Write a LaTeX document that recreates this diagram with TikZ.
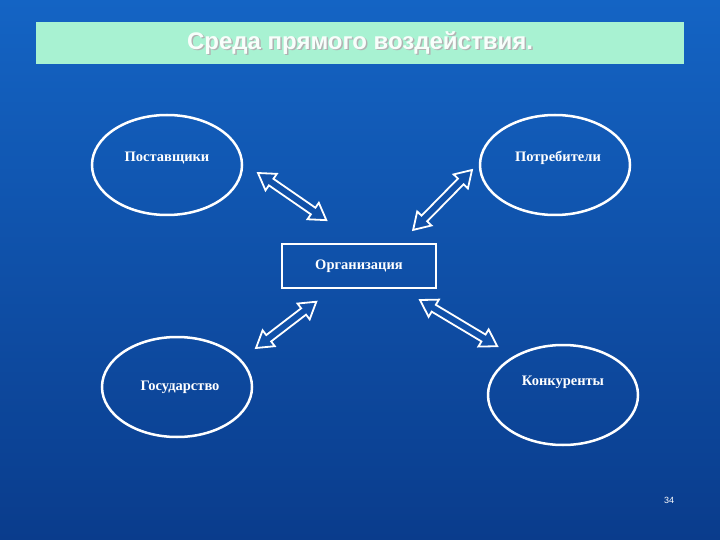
\documentclass[tikz,border=0pt]{standalone}
\usepackage{fontspec}
\setmainfont{Liberation Serif}
\newfontfamily\arialf{Liberation Sans}
\usetikzlibrary{arrows.meta,shapes.geometric}
\definecolor{bgtop}{HTML}{1464C4}
\definecolor{bgbot}{HTML}{0A3C8C}
\definecolor{mint}{HTML}{A8F2D2}
\definecolor{arrfill}{HTML}{1050A8}
\newcommand{\blockarr}[3]{%
  \begin{scope}[shift={(#1)},rotate=#2]
  \draw[draw=white,fill=arrfill,line width=1.8pt,line join=miter]
    (0,0)--(16,10)--(16,4)--(#3-16,4)--(#3-16,10)--(#3,0)--(#3-16,-10)--(#3-16,-4)--(16,-4)--(16,-10)--cycle;
  \end{scope}}
\begin{document}
\begin{tikzpicture}[x=1pt,y=-1pt,
  oval/.style={draw=white,line width=2.5pt,ellipse,minimum width=150pt,minimum height=100pt},
  lbl/.style={text=white,font=\bfseries\fontsize{14.5}{16}\selectfont}]
\shade[top color=bgtop,bottom color=bgbot] (0,0) rectangle (720,540);
\useasboundingbox (0,0) rectangle (720,540);
\node[fill=mint,minimum width=648pt,minimum height=42pt,inner sep=0] (title) at (360,43) {};
\node[text=gray!60,font=\arialf\bfseries\fontsize{24}{26}\selectfont] at (361.5,44.5) {Среда прямого воздействия.};
\node[text=white!92!mint,font=\arialf\bfseries\fontsize{24}{26}\selectfont] (tt) at (360,43) {Среда прямого воздействия.};
\node[oval] (sup) at (167,165) {};
\node[lbl] at (167,158) {Поставщики};
\node[oval] (cons) at (555,165) {};
\node[lbl] at (558,158) {Потребители};
\node[oval] (gov) at (177,387) {};
\node[lbl] at (180,387) {Государство};
\node[oval] (comp) at (563,395) {};
\node[lbl] at (563,382) {Конкуренты};
\node[draw=white,line width=2pt,minimum width=154pt,minimum height=44pt,lbl] (org) at (359,266) {Организация};
\coordinate (a1) at (258,173);
\coordinate (a2) at (472,170);
\coordinate (a3) at (256,348);
\coordinate (a4) at (420,300);
\blockarr{a1}{-34.6}{83}
\blockarr{a2}{-134.5}{84}
\blockarr{a3}{37.5}{76}
\blockarr{a4}{-30.9}{90}
\node[text=white,font=\arialf\fontsize{9}{10}\selectfont] (pg) at (669,500) {34};
\end{tikzpicture}
\end{document}
